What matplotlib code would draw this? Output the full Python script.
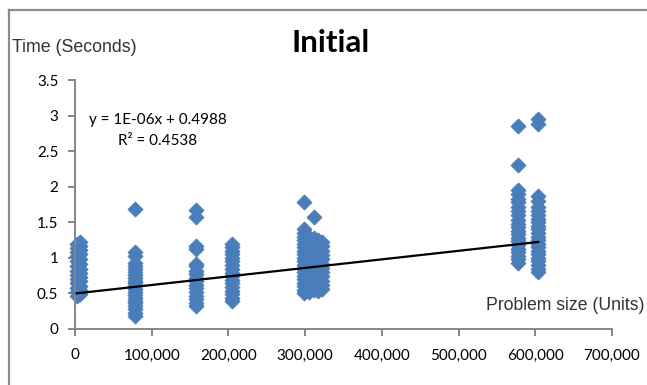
import numpy as np
import matplotlib
matplotlib.use("Agg")
import matplotlib.pyplot as plt
from matplotlib.lines import Line2D

# Problem sizes (units) and run times (seconds), grouped by column of runs
size_a1, times_a1 = 2000, [0.46, 0.52, 0.58, 0.64, 0.70, 0.76, 0.82, 0.88, 0.95, 1.02, 1.08, 1.14, 1.20]
size_a2, times_a2 = 6000, [0.49, 0.55, 0.61, 0.67, 0.73, 0.79, 0.85, 0.92, 0.98, 1.05, 1.11, 1.17, 1.22]
size_b, times_b = 78000, [0.18, 0.23, 0.28, 0.32, 0.36, 0.40, 0.44, 0.48, 0.52, 0.56, 0.60, 0.64,
                          0.68, 0.72, 0.76, 0.80, 0.84, 0.88, 0.93, 1.02, 1.08, 1.68]
size_c, times_c = 158000, [0.32, 0.37, 0.42, 0.47, 0.52, 0.57, 0.62, 0.67, 0.72, 0.77, 0.82, 0.88,
                           0.92, 1.12, 1.16, 1.57, 1.67]
size_d, times_d = 205000, [0.39, 0.44, 0.49, 0.54, 0.59, 0.64, 0.69, 0.74, 0.79, 0.85, 0.90, 0.95,
                           1.00, 1.05, 1.10, 1.15, 1.20]
size_e1, times_e1 = 298000, [0.50, 0.55, 0.60, 0.65, 0.70, 0.75, 0.80, 0.85, 0.90, 0.95, 1.00, 1.05,
                             1.10, 1.15, 1.20, 1.25, 1.30, 1.35, 1.41, 1.78]
size_e2, times_e2 = 305000, [0.52, 0.58, 0.64, 0.70, 0.76, 0.82, 0.88, 0.94, 1.00, 1.06, 1.12, 1.18,
                             1.24, 1.30]
size_e3, times_e3 = 311000, [0.55, 0.61, 0.67, 0.73, 0.79, 0.85, 0.91, 0.97, 1.03, 1.09, 1.15, 1.21,
                             1.28, 1.57]
size_e4, times_e4 = 317000, [0.53, 0.59, 0.65, 0.71, 0.77, 0.83, 0.89, 0.95, 1.01, 1.07, 1.13, 1.19,
                             1.25]
size_e5, times_e5 = 322000, [0.56, 0.62, 0.68, 0.74, 0.80, 0.86, 0.92, 0.98, 1.04, 1.10, 1.16, 1.22]
size_f, times_f = 578000, [0.93, 0.98, 1.03, 1.08, 1.13, 1.18, 1.23, 1.28, 1.33, 1.38, 1.43, 1.48,
                           1.53, 1.60, 1.66, 1.72, 1.78, 1.83, 1.90, 1.96, 2.30, 2.85]
size_g, times_g = 604000, [0.80, 0.85, 0.90, 0.95, 1.00, 1.05, 1.10, 1.15, 1.20, 1.25, 1.30, 1.35,
                           1.40, 1.45, 1.50, 1.55, 1.60, 1.66, 1.72, 1.80, 1.87, 2.88, 2.95]

# Linear trend line fitted to the runs
trend_slope = 1.2e-6
trend_intercept = 0.4988
trend_r2 = 0.4538

x_ticks = [0, 100000, 200000, 300000, 400000, 500000, 600000, 700000]
y_ticks = [0, 0.5, 1, 1.5, 2, 2.5, 3, 3.5]

columns = [
    (size_a1, times_a1), (size_a2, times_a2), (size_b, times_b), (size_c, times_c),
    (size_d, times_d), (size_e1, times_e1), (size_e2, times_e2), (size_e3, times_e3),
    (size_e4, times_e4), (size_e5, times_e5), (size_f, times_f), (size_g, times_g),
]
xs = np.concatenate([np.full(len(t), s, dtype=float) for s, t in columns])
ys = np.concatenate([np.asarray(t, dtype=float) for _, t in columns])

W, H = 647, 385
fig = plt.figure(figsize=(W / 100, H / 100), dpi=100)
fig.patch.set_facecolor("white")

# chart frame (top and left edges visible)
frame_col = "#8c8c8c"
fig.add_artist(Line2D([9 / W, 1.01], [1 - 10 / H, 1 - 10 / H], transform=fig.transFigure,
                      color=frame_col, lw=1.6))
fig.add_artist(Line2D([9 / W, 9 / W], [1 - 10 / H, -0.01], transform=fig.transFigure,
                      color=frame_col, lw=1.6))

ax = fig.add_axes([75 / W, 1 - 329 / H, (612 - 75) / W, (329 - 80) / H])
ax.set_xlim(0, 700000)
ax.set_ylim(0, 3.5)

ax.scatter(xs, ys, marker="D", s=60, color="#4A7EBB", edgecolors="#4A7EBB", linewidths=0.5,
           zorder=2, clip_on=False)

tx = np.array([xs.min(), xs.max()])
ax.plot(tx, trend_slope * tx + trend_intercept, color="black", lw=1.6, zorder=3)

axis_col = "#868686"
for side in ("top", "right"):
    ax.spines[side].set_visible(False)
for side in ("left", "bottom"):
    ax.spines[side].set_color(axis_col)
    ax.spines[side].set_linewidth(1.4)

tick_font = dict(family="Lato", size=11)
ax.set_xticks(x_ticks)
ax.set_xticklabels([f"{v:,}" for v in x_ticks], **tick_font)
ax.set_yticks(y_ticks)
ax.set_yticklabels([f"{v:g}" for v in y_ticks], **tick_font)
ax.tick_params(axis="x", direction="out", length=5, width=1.4, color=axis_col, pad=9,
               labelcolor="black")
ax.tick_params(axis="y", direction="out", length=5, width=1.4, color=axis_col, pad=7,
               labelcolor="black")

fig.text(331 / W, 1 - 43 / H, "Initial", ha="center", va="center",
         family="Lato", weight="bold", size=22.5)
fig.text(12 / W, 1 - 48 / H, "Time (Seconds)", ha="left", va="center",
         family="Liberation Sans", size=12.8, color="#333333")
fig.text(645 / W, 1 - 306 / H, "Problem size (Units)", ha="right", va="center",
         family="Liberation Sans", size=12.7, color="#333333")

eq = f"y = {trend_slope:.0E}x + {trend_intercept:.4f}"
fig.text(158 / W, 1 - 120 / H, eq, ha="center", va="center", family="Lato", size=11)
fig.text(158 / W, 1 - 141 / H, f"R² = {trend_r2:.4f}", ha="center", va="center",
         family="Lato", size=11)

fig.savefig("out.png", dpi=100, facecolor="white")
